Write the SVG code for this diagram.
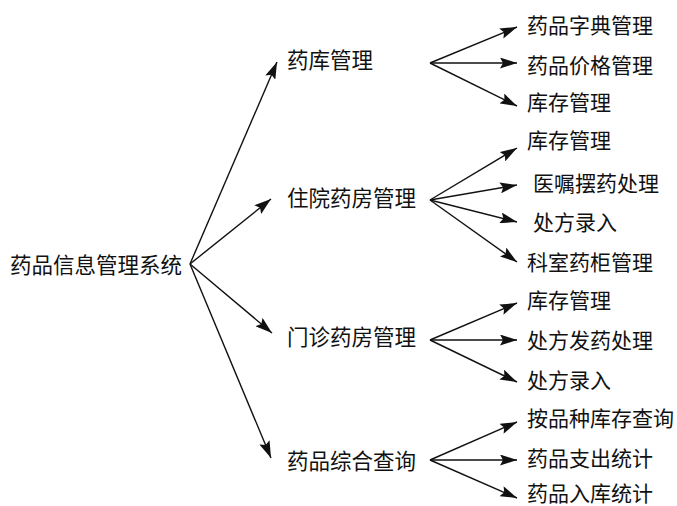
<svg xmlns="http://www.w3.org/2000/svg" width="677" height="506" viewBox="0 0 677 506">
<style>
text{font-family:"Noto Sans CJK SC","Noto Sans CJK JP",sans-serif;font-size:21.5px;fill:#111}
text.s{font-size:21px}
.c line{stroke:#111;stroke-width:1.4;marker-end:url(#ah)}
</style>
<defs>
<marker id="ah" markerUnits="userSpaceOnUse" markerWidth="18" markerHeight="11" refX="17" refY="5.5" orient="auto">
<path d="M0,0 L17,5.5 L0,11 L3,5.5 z" fill="#111"/>
</marker>
</defs>
<rect width="677" height="506" fill="#fff"/>
<g id="connectors" class="c">
<line x1="190" y1="264" x2="277" y2="62"/>
<line x1="190" y1="264" x2="271" y2="199"/>
<line x1="190" y1="264" x2="272" y2="333"/>
<line x1="190" y1="264" x2="271" y2="458"/>
<line x1="430" y1="63" x2="517" y2="27"/>
<line x1="430" y1="63" x2="517" y2="63"/>
<line x1="430" y1="63" x2="517" y2="106"/>
<line x1="430" y1="200" x2="517" y2="148"/>
<line x1="430" y1="200" x2="517" y2="185"/>
<line x1="430" y1="200" x2="517" y2="222"/>
<line x1="430" y1="200" x2="517" y2="262"/>
<line x1="430" y1="340" x2="517" y2="303"/>
<line x1="430" y1="340" x2="517" y2="340"/>
<line x1="430" y1="340" x2="517" y2="382"/>
<line x1="430" y1="460" x2="517" y2="422"/>
<line x1="430" y1="460" x2="517" y2="460"/>
<line x1="430" y1="460" x2="517" y2="498"/>
</g>
<g id="root"><text x="10" y="273">药品信息管理系统</text></g>
<g id="n1"><text x="287" y="68">药库管理</text></g>
<g id="n2"><text x="287" y="206">住院药房管理</text></g>
<g id="n3"><text x="287" y="345">门诊药房管理</text></g>
<g id="n4"><text x="287" y="469">药品综合查询</text></g>
<g id="n1a"><text class="s" x="527" y="33">药品字典管理</text></g>
<g id="n1b"><text class="s" x="527" y="73">药品价格管理</text></g>
<g id="n1c"><text class="s" x="527" y="110">库存管理</text></g>
<g id="n2a"><text class="s" x="527" y="148">库存管理</text></g>
<g id="n2b"><text class="s" x="533" y="191">医嘱摆药处理</text></g>
<g id="n2c"><text class="s" x="533" y="230">处方录入</text></g>
<g id="n2d"><text class="s" x="527" y="270">科室药柜管理</text></g>
<g id="n3a"><text class="s" x="527" y="308">库存管理</text></g>
<g id="n3b"><text class="s" x="527" y="348">处方发药处理</text></g>
<g id="n3c"><text class="s" x="527" y="388">处方录入</text></g>
<g id="n4a"><text class="s" x="527" y="426">按品种库存查询</text></g>
<g id="n4b"><text class="s" x="527" y="466">药品支出统计</text></g>
<g id="n4c"><text class="s" x="527" y="501">药品入库统计</text></g>
</svg>
